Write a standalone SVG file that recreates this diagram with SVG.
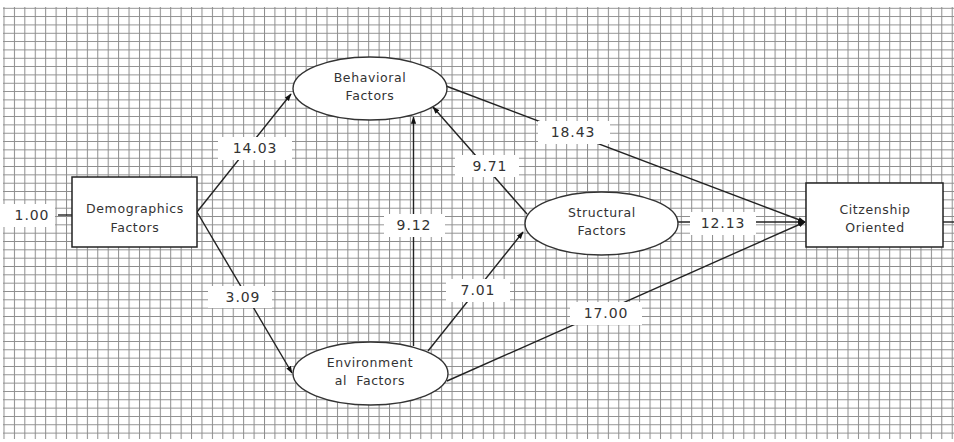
<svg xmlns="http://www.w3.org/2000/svg" width="954" height="442" viewBox="0 0 954 442">
<defs>
<pattern id="grid" patternUnits="userSpaceOnUse" x="3.5" y="7.8" width="10.42" height="8.33">
<path d="M0.5 0 V8.33 M0 0.5 H10.42" fill="none" stroke="#8c8c8c" stroke-width="1"/>
</pattern>
<marker id="arr" viewBox="0 0 10 10" refX="9" refY="5" markerWidth="7.5" markerHeight="7.5" markerUnits="userSpaceOnUse" orient="auto">
<path d="M0,1.5 L10,5 L0,8.5 Z" fill="#111"/>
</marker>
<style>
.box{fill:#fff;stroke:#222;stroke-width:1.5}
.ell{fill:#fff;stroke:#333;stroke-width:1.4}
.nt{font-family:"DejaVu Sans",Verdana,sans-serif;font-size:12.5px;fill:#333;text-anchor:middle;letter-spacing:0.6px}
.edge{fill:none;stroke:#222;stroke-width:1.4}
.lb{fill:#fff}
.lt{font-family:"DejaVu Sans",Verdana,sans-serif;font-size:14px;fill:#333;text-anchor:middle;letter-spacing:0.9px}
</style>
</defs>
<rect x="0" y="0" width="954" height="442" fill="#fff"/>
<rect x="3" y="7" width="951" height="432" fill="url(#grid)"/>
<g id="connectors">
<path class="edge" d="M58,215 L72,215"/>
<path class="edge" d="M943,222 L954,222"/>
<path class="edge" d="M197,212 L291,94" marker-end="url(#arr)"/>
<path class="edge" d="M197,212 L292,373" marker-end="url(#arr)"/>
<path class="edge" d="M413.5,346 L413.5,117" marker-end="url(#arr)"/>
<path class="edge" d="M428,351 L523,232" marker-end="url(#arr)"/>
<path class="edge" d="M527,214 L433,107" marker-end="url(#arr)"/>
<path class="edge" d="M446,86 L805,222" marker-end="url(#arr)"/>
<path class="edge" d="M678,222 L805,222" marker-end="url(#arr)"/>
<path class="edge" d="M447,381 L805,222" marker-end="url(#arr)"/>
<g id="labels">
<rect class="lb" x="3" y="204" width="52" height="23"/><text class="lt" x="32" y="220">1.00</text>
<rect class="lb" x="218" y="137" width="74" height="23"/><text class="lt" x="255" y="153">14.03</text>
<rect class="lb" x="208" y="286" width="64" height="22"/><text class="lt" x="243" y="302">3.09</text>
<rect class="lb" x="384" y="214" width="61" height="23"/><text class="lt" x="414" y="230">9.12</text>
<rect class="lb" x="455" y="155" width="64" height="22"/><text class="lt" x="490" y="171">9.71</text>
<rect class="lb" x="446" y="279" width="64" height="23"/><text class="lt" x="478" y="295">7.01</text>
<rect class="lb" x="538" y="121" width="72" height="23"/><text class="lt" x="573" y="137">18.43</text>
<rect class="lb" x="690" y="212" width="66" height="23"/><text class="lt" x="723" y="228">12.13</text>
<rect class="lb" x="570" y="302" width="72" height="23"/><text class="lt" x="606" y="318">17.00</text>
</g>
</g>
<g id="demographics">
<rect class="box" x="72" y="177" width="125" height="70"/>
<text class="nt" x="135" y="213">Demographics</text>
<text class="nt" x="135" y="232">Factors</text>
</g>
<g id="behavioral">
<ellipse class="ell" cx="370" cy="88.5" rx="77" ry="31.5"/>
<text class="nt" x="370" y="82">Behavioral</text>
<text class="nt" x="370" y="100">Factors</text>
</g>
<g id="environmental">
<ellipse class="ell" cx="370.5" cy="373.5" rx="77.5" ry="31.5"/>
<text class="nt" x="370" y="367">Environment</text>
<text class="nt" x="370" y="385" xml:space="preserve">al  Factors</text>
</g>
<g id="structural">
<ellipse class="ell" cx="601.5" cy="223.5" rx="76.5" ry="31.5"/>
<text class="nt" x="602" y="217">Structural</text>
<text class="nt" x="602" y="235">Factors</text>
</g>
<g id="citizenship">
<rect class="box" x="806" y="183" width="137" height="64"/>
<text class="nt" x="875" y="214">Citzenship</text>
<text class="nt" x="875" y="232">Oriented</text>
</g>
</svg>
